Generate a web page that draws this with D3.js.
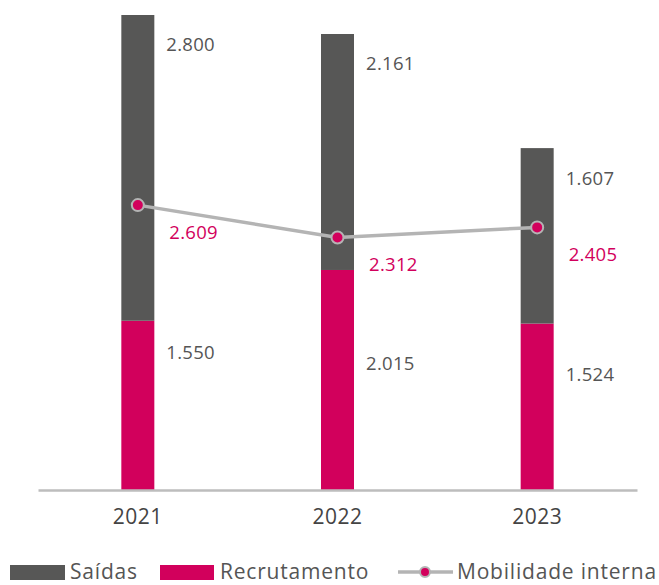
<!DOCTYPE html>
<html><head><meta charset="utf-8">
<script src="https://cdn.jsdelivr.net/npm/d3@7/dist/d3.min.js"></script>
<style>body{margin:0;background:#fff}svg{display:block;font-family:"Open Sans",sans-serif}</style>
</head><body><svg id="c" width="659" height="585"></svg>
<script>
const years = ["2021","2022","2023"];
const recrutamento = [1550, 2015, 1524];
const saidas = [2800, 2161, 1607];
const mobilidade = [2609, 2312, 2405];
// vertical anchor (data units) for the Recrutamento value labels
const recrutLabelAt = [1255, 1155, 1060];
const seriesNames = ["Saídas", "Recrutamento", "Mobilidade interna"];

const fmt = v => d3.format(",")(v).replace(/,/g, ".");
const cGray = "#575756", cMag = "#D2005C", cLine = "#B4B4B4", cText = "#555555";

const svg = d3.select("#c");
const x = d3.scaleBand().domain(years).range([38, 637]);
const y = d3.scaleLinear().domain([0, 4350]).range([490, 15]);
const bw = 33;
const bx = d => x(d) + x.bandwidth()/2 - bw/2;

const g = svg.append("g");
years.forEach((yr, i) => {
  g.append("rect").attr("x", bx(yr)).attr("width", bw)
    .attr("y", y(recrutamento[i])).attr("height", y(0) - y(recrutamento[i])).attr("fill", cMag);
  g.append("rect").attr("x", bx(yr)).attr("width", bw)
    .attr("y", y(recrutamento[i] + saidas[i])).attr("height", y(recrutamento[i]) - y(recrutamento[i] + saidas[i])).attr("fill", cGray);
});

// axis
const ax = svg.append("g").attr("transform", "translate(0,490)")
  .call(d3.axisBottom(x).tickSize(0).tickPadding(19));
ax.select(".domain").attr("stroke", "#BDBDBD").attr("stroke-width", 2.5);
ax.selectAll("text").attr("font-size", 21).attr("font-weight", 500).attr("letter-spacing", 0.5)
  .attr("fill", "#444").attr("font-family", "\"Open Sans\",sans-serif");

// line
const line = d3.line().x((d, i) => x(years[i]) + x.bandwidth()/2).y(d => y(d));
svg.append("path").datum(mobilidade).attr("d", line).attr("fill", "none")
  .attr("stroke", cLine).attr("stroke-width", 3.5);
svg.selectAll("circle.pt").data(mobilidade).join("circle").attr("class", "pt")
  .attr("cx", (d, i) => x(years[i]) + x.bandwidth()/2).attr("cy", d => y(d))
  .attr("r", 6).attr("fill", cMag).attr("stroke", cLine).attr("stroke-width", 2);

// labels
const lx = yr => bx(yr) + bw + 12;
years.forEach((yr, i) => {
  svg.append("text").attr("x", lx(yr)).attr("y", y(recrutamento[i] + saidas[i]) + 30)
    .attr("dy", "0.35em").attr("font-size", 18.5).attr("letter-spacing", 0.3).attr("fill", cText).text(fmt(saidas[i]));
  svg.append("text").attr("x", lx(yr)).attr("y", y(recrutLabelAt[i]))
    .attr("dy", "0.35em").attr("font-size", 18.5).attr("letter-spacing", 0.3).attr("fill", cText).text(fmt(recrutamento[i]));
  svg.append("text").attr("x", lx(yr) + 3).attr("y", y(mobilidade[i]) + 27)
    .attr("dy", "0.35em").attr("font-size", 18.5).attr("letter-spacing", 0.3).attr("fill", cMag).text(fmt(mobilidade[i]));
});

// legend
const leg = svg.append("g");
const ly = 572;
leg.append("rect").attr("x", 10).attr("y", ly - 7).attr("width", 55).attr("height", 15).attr("fill", cGray);
leg.append("text").attr("x", 70).attr("y", ly).attr("dy", "0.35em").attr("font-size", 21).attr("letter-spacing", 0.8).attr("fill", cText).text(seriesNames[0]);
leg.append("rect").attr("x", 160).attr("y", ly - 7).attr("width", 54).attr("height", 15).attr("fill", cMag);
leg.append("text").attr("x", 220).attr("y", ly).attr("dy", "0.35em").attr("font-size", 21).attr("letter-spacing", 0.8).attr("fill", cText).text(seriesNames[1]);
leg.append("line").attr("x1", 398).attr("x2", 453).attr("y1", ly).attr("y2", ly).attr("stroke", cLine).attr("stroke-width", 3.5);
leg.append("circle").attr("cx", 425).attr("cy", ly).attr("r", 5).attr("fill", cMag).attr("stroke", cLine).attr("stroke-width", 2);
leg.append("text").attr("x", 457).attr("y", ly).attr("dy", "0.35em").attr("font-size", 21).attr("letter-spacing", 0.8).attr("fill", cText).text(seriesNames[2]);
</script></body></html>
